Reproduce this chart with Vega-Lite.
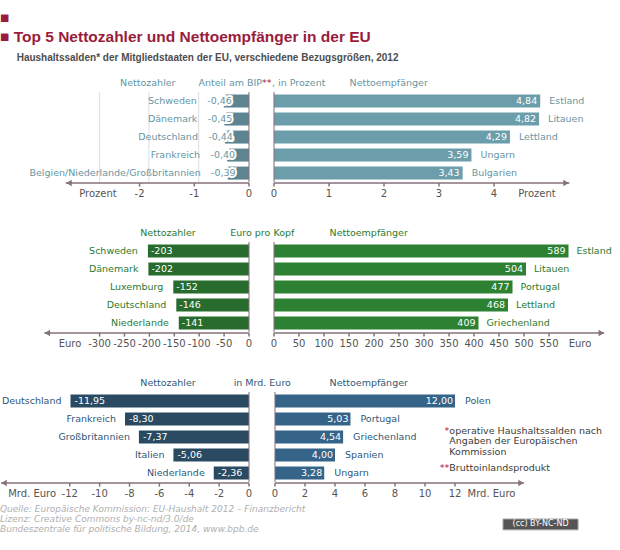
{
"$schema": "https://vega.github.io/schema/vega-lite/v6.json",
"padding": {"top": 11, "left": 0, "right": 0, "bottom": 0},
"background": "white",
"bounds": "flush",
"columns": 2,
"spacing": {"row": 49, "column": 25},
"title": {
 "text": ["■", "■  Top 5 Nettozahler und Nettoempfänger in der EU"],
 "subtitle": "\u200b\u00a0\u00a0\u00a0\u00a0\u00a0\u00a0Haushaltssalden* der Mitgliedstaaten der EU, verschiedene Bezugsgrößen, 2012",
 "anchor": "start", "offset": 15,
 "font": "Liberation Sans", "fontSize": 15.5, "fontWeight": "bold", "color": "#9a1c3c", "lineHeight": 19,
 "subtitleFont": "Liberation Sans", "subtitleFontSize": 10, "subtitleFontWeight": "bold", "subtitleColor": "#4d4d4d", "subtitlePadding": 7
},
"config": {
 "view": {"stroke": null},
 "locale": {"number": {"decimal": ",", "thousands": ".", "grouping": [3], "currency": ["", " €"], "minus": "-"}},
 "text": {"font": "DejaVu Sans", "fontSize": 9.5}
},
"data": {"values": [
 {"panel": 1, "side": "L", "rank": 1, "country": "Schweden", "value": -0.46},
 {"panel": 1, "side": "L", "rank": 2, "country": "Dänemark", "value": -0.45},
 {"panel": 1, "side": "L", "rank": 3, "country": "Deutschland", "value": -0.44},
 {"panel": 1, "side": "L", "rank": 4, "country": "Frankreich", "value": -0.40},
 {"panel": 1, "side": "L", "rank": 5, "country": "Belgien/Niederlande/Großbritannien", "value": -0.39},
 {"panel": 1, "side": "R", "rank": 1, "country": "Estland", "value": 4.84},
 {"panel": 1, "side": "R", "rank": 2, "country": "Litauen", "value": 4.82},
 {"panel": 1, "side": "R", "rank": 3, "country": "Lettland", "value": 4.29},
 {"panel": 1, "side": "R", "rank": 4, "country": "Ungarn", "value": 3.59},
 {"panel": 1, "side": "R", "rank": 5, "country": "Bulgarien", "value": 3.43},
 {"panel": 2, "side": "L", "rank": 1, "country": "Schweden", "value": -203},
 {"panel": 2, "side": "L", "rank": 2, "country": "Dänemark", "value": -202},
 {"panel": 2, "side": "L", "rank": 3, "country": "Luxemburg", "value": -152},
 {"panel": 2, "side": "L", "rank": 4, "country": "Deutschland", "value": -146},
 {"panel": 2, "side": "L", "rank": 5, "country": "Niederlande", "value": -141},
 {"panel": 2, "side": "R", "rank": 1, "country": "Estland", "value": 589},
 {"panel": 2, "side": "R", "rank": 2, "country": "Litauen", "value": 504},
 {"panel": 2, "side": "R", "rank": 3, "country": "Portugal", "value": 477},
 {"panel": 2, "side": "R", "rank": 4, "country": "Lettland", "value": 468},
 {"panel": 2, "side": "R", "rank": 5, "country": "Griechenland", "value": 409},
 {"panel": 3, "side": "L", "rank": 1, "country": "Deutschland", "value": -11.95},
 {"panel": 3, "side": "L", "rank": 2, "country": "Frankreich", "value": -8.30},
 {"panel": 3, "side": "L", "rank": 3, "country": "Großbritannien", "value": -7.37},
 {"panel": 3, "side": "L", "rank": 4, "country": "Italien", "value": -5.06},
 {"panel": 3, "side": "L", "rank": 5, "country": "Niederlande", "value": -2.36},
 {"panel": 3, "side": "R", "rank": 1, "country": "Polen", "value": 12.00},
 {"panel": 3, "side": "R", "rank": 2, "country": "Portugal", "value": 5.03},
 {"panel": 3, "side": "R", "rank": 3, "country": "Griechenland", "value": 4.54},
 {"panel": 3, "side": "R", "rank": 4, "country": "Spanien", "value": 4.00},
 {"panel": 3, "side": "R", "rank": 5, "country": "Ungarn", "value": 3.28}
]},
"concat": [
  {"width": 249, "height": 101,
   "transform": [{"filter": "datum.panel === 1 && datum.side === 'L'"}],
   "layer": [
    {"data": {"values": [{"g": -2.73}, {"g": -1.83}, {"g": -0.92}]}, "mark": {"type": "rule", "color": "#dddddd", "strokeWidth": 1},
     "encoding": {"x": {"field": "g", "type": "quantitative", "axis": null}, "y": {"datum": 0.5, "axis": null}, "y2": {"datum": 5.55}}},
    {"mark": {"type": "bar", "height": 13, "color": "#5d8591"},
     "encoding": {"x": {"field": "value", "type": "quantitative", "scale": {"domain": [-4.552, 0], "nice": false, "zero": false},
                        "axis": {"values": [-2, -1, 0], "format": "d", "grid": false, "title": null, "domain": false, "labels": false, "ticks": false}},
                  "x2": {"datum": 0},
                  "y": {"field": "rank", "type": "quantitative", "scale": {"domain": [0.5, 5.55], "reverse": true, "nice": false, "zero": false}, "axis": null}}},
    {"mark": {"type": "tick", "orient": "vertical", "color": "#86707a", "size": 18, "thickness": 1.5},
     "encoding": {"x": {"datum": 0, "axis": null}, "y": {"field": "rank", "type": "quantitative", "axis": null}}},
    {"data": {"values": [{}]}, "mark": {"type": "rule", "color": "#86707a", "strokeWidth": 1.5},
     "encoding": {"x": {"datum": -3.35, "axis": null}, "x2": {"datum": 0}, "y": {"datum": 5.55, "axis": null}}},
    {"data": {"values": [{}]}, "mark": {"type": "point", "shape": "triangle-left", "filled": true, "size": 40, "color": "#86707a", "opacity": 1},
     "encoding": {"x": {"datum": -3.29, "axis": null}, "y": {"datum": 5.55, "axis": null}}},
    {"data": {"values": [{"t": -2}, {"t": -1}, {"t": 0}]}, "mark": {"type": "rule", "color": "#86707a", "strokeWidth": 1.5},
     "encoding": {"x": {"field": "t", "type": "quantitative", "axis": null}, "y": {"datum": 5.55, "axis": null}, "y2": {"datum": 5.75}}},
    {"data": {"values": [{"t": -2}, {"t": -1}, {"t": 0}]}, "mark": {"type": "text", "align": "center", "baseline": "middle", "color": "#555555", "fontSize": 10},
     "encoding": {"x": {"field": "t", "type": "quantitative", "axis": null}, "y": {"datum": 6.15, "axis": null}, "text": {"field": "t", "type": "quantitative", "format": "d"}}},
    {"mark": {"type": "text", "align": "right", "baseline": "middle", "dx": 8, "color": "white", "stroke": "white", "strokeWidth": 4},
     "encoding": {"x": {"field": "value", "type": "quantitative", "axis": null}, "y": {"field": "rank", "type": "quantitative", "axis": null}, "text": {"field": "value", "type": "quantitative", "format": ".2f"}}},
    {"mark": {"type": "text", "align": "right", "baseline": "middle", "dx": 8, "color": "#6796a3"},
     "encoding": {"x": {"field": "value", "type": "quantitative", "axis": null}, "y": {"field": "rank", "type": "quantitative", "axis": null}, "text": {"field": "value", "type": "quantitative", "format": ".2f"}}},
    {"mark": {"type": "text", "align": "right", "baseline": "middle", "dx": -27, "color": "#6796a3"},
     "encoding": {"x": {"field": "value", "type": "quantitative", "axis": null}, "y": {"field": "rank", "type": "quantitative", "axis": null}, "text": {"field": "country"}}},
    {"data": {"values": [{}]}, "mark": {"type": "text", "align": "center", "baseline": "middle", "color": "#6796a3", "text": "Nettozahler"},
     "encoding": {"x": {"datum": -1.85, "axis": null}, "y": {"datum": 0, "axis": null}}},
    {"data": {"values": [{}]}, "mark": {"type": "text", "align": "right", "baseline": "middle", "color": "#6796a3", "text": "Anteil am BIP"},
     "encoding": {"x": {"datum": 0.238, "axis": null}, "y": {"datum": 0, "axis": null}}},
    {"data": {"values": [{}]}, "mark": {"type": "text", "align": "left", "baseline": "middle", "color": "#a0153e", "text": "**"},
     "encoding": {"x": {"datum": 0.238, "axis": null}, "y": {"datum": 0, "axis": null}}},
    {"data": {"values": [{}]}, "mark": {"type": "text", "align": "left", "baseline": "middle", "dx": 10, "color": "#6796a3", "text": ", in Prozent"},
     "encoding": {"x": {"datum": 0.238, "axis": null}, "y": {"datum": 0, "axis": null}}},
    {"data": {"values": [{}]}, "mark": {"type": "text", "align": "center", "baseline": "middle", "color": "#555555", "fontSize": 10, "text": "Prozent"},
     "encoding": {"x": {"datum": -2.76, "axis": null}, "y": {"datum": 6.15, "axis": null}}}
   ]},
  {"width": 330, "height": 101,
   "transform": [{"filter": "datum.panel === 1 && datum.side === 'R'"}],
   "layer": [
    {"mark": {"type": "bar", "height": 13, "color": "#6c9dab"},
     "encoding": {"x": {"field": "value", "type": "quantitative", "scale": {"domain": [0, 6], "nice": false, "zero": false},
                        "axis": {"values": [0, 1, 2, 3, 4], "format": "d", "grid": true, "gridColor": {"condition": {"test": "datum.value === 0", "value": "transparent"}, "value": "#dddddd"}, "title": null, "domain": false, "labels": false, "ticks": false}},
                  "x2": {"datum": 0},
                  "y": {"field": "rank", "type": "quantitative", "scale": {"domain": [0.5, 5.55], "reverse": true, "nice": false, "zero": false}, "axis": null}}},
    {"mark": {"type": "tick", "orient": "vertical", "color": "#86707a", "size": 18, "thickness": 1.5},
     "encoding": {"x": {"datum": 0, "axis": null}, "y": {"field": "rank", "type": "quantitative", "axis": null}}},
    {"data": {"values": [{}]}, "mark": {"type": "rule", "color": "#86707a", "strokeWidth": 1.5},
     "encoding": {"x": {"datum": 0, "axis": null}, "x2": {"datum": 5.37}, "y": {"datum": 5.55, "axis": null}}},
    {"data": {"values": [{}]}, "mark": {"type": "point", "shape": "triangle-right", "filled": true, "size": 40, "color": "#86707a", "opacity": 1},
     "encoding": {"x": {"datum": 5.31, "axis": null}, "y": {"datum": 5.55, "axis": null}}},
    {"data": {"values": [{"t": 0}, {"t": 1}, {"t": 2}, {"t": 3}, {"t": 4}]}, "mark": {"type": "rule", "color": "#86707a", "strokeWidth": 1.5},
     "encoding": {"x": {"field": "t", "type": "quantitative", "axis": null}, "y": {"datum": 5.55, "axis": null}, "y2": {"datum": 5.75}}},
    {"data": {"values": [{"t": 0}, {"t": 1}, {"t": 2}, {"t": 3}, {"t": 4}]}, "mark": {"type": "text", "align": "center", "baseline": "middle", "color": "#555555", "fontSize": 10},
     "encoding": {"x": {"field": "t", "type": "quantitative", "axis": null}, "y": {"datum": 6.15, "axis": null}, "text": {"field": "t", "type": "quantitative", "format": "d"}}},
    {"mark": {"type": "text", "align": "right", "baseline": "middle", "dx": -3, "color": "white"},
     "encoding": {"x": {"field": "value", "type": "quantitative", "axis": null}, "y": {"field": "rank", "type": "quantitative", "axis": null}, "text": {"field": "value", "type": "quantitative", "format": ".2f"}}},
    {"mark": {"type": "text", "align": "left", "baseline": "middle", "dx": 9, "color": "#6796a3"},
     "encoding": {"x": {"field": "value", "type": "quantitative", "axis": null}, "y": {"field": "rank", "type": "quantitative", "axis": null}, "text": {"field": "country"}}},
    {"data": {"values": [{}]}, "mark": {"type": "text", "align": "center", "baseline": "middle", "color": "#6796a3", "text": "Nettoempfänger"},
     "encoding": {"x": {"datum": 2.085, "axis": null}, "y": {"datum": 0, "axis": null}}},
    {"data": {"values": [{}]}, "mark": {"type": "text", "align": "center", "baseline": "middle", "color": "#555555", "fontSize": 10, "text": "Prozent"},
     "encoding": {"x": {"datum": 4.78, "axis": null}, "y": {"datum": 6.15, "axis": null}}}
   ]},
  {"width": 249, "height": 101,
   "transform": [{"filter": "datum.panel === 2 && datum.side === 'L'"}],
   "layer": [
    {"mark": {"type": "bar", "height": 13, "color": "#276c2d"},
     "encoding": {"x": {"field": "value", "type": "quantitative", "scale": {"domain": [-500, 0], "nice": false, "zero": false},
                        "axis": {"values": [-300, -250, -200, -150, -100, -50, 0], "format": "d", "grid": true, "gridColor": {"condition": {"test": "datum.value === 0", "value": "transparent"}, "value": "#dddddd"}, "title": null, "domain": false, "labels": false, "ticks": false}},
                  "x2": {"datum": 0},
                  "y": {"field": "rank", "type": "quantitative", "scale": {"domain": [0.5, 5.55], "reverse": true, "nice": false, "zero": false}, "axis": null}}},
    {"mark": {"type": "tick", "orient": "vertical", "color": "#86707a", "size": 18, "thickness": 1.5},
     "encoding": {"x": {"datum": 0, "axis": null}, "y": {"field": "rank", "type": "quantitative", "axis": null}}},
    {"data": {"values": [{}]}, "mark": {"type": "rule", "color": "#86707a", "strokeWidth": 1.5},
     "encoding": {"x": {"datum": -411, "axis": null}, "x2": {"datum": 0}, "y": {"datum": 5.55, "axis": null}}},
    {"data": {"values": [{}]}, "mark": {"type": "point", "shape": "triangle-left", "filled": true, "size": 40, "color": "#86707a", "opacity": 1},
     "encoding": {"x": {"datum": -405, "axis": null}, "y": {"datum": 5.55, "axis": null}}},
    {"data": {"values": [{"t": -300}, {"t": -250}, {"t": -200}, {"t": -150}, {"t": -100}, {"t": -50}, {"t": 0}]}, "mark": {"type": "rule", "color": "#86707a", "strokeWidth": 1.5},
     "encoding": {"x": {"field": "t", "type": "quantitative", "axis": null}, "y": {"datum": 5.55, "axis": null}, "y2": {"datum": 5.75}}},
    {"data": {"values": [{"t": -300}, {"t": -250}, {"t": -200}, {"t": -150}, {"t": -100}, {"t": -50}, {"t": 0}]}, "mark": {"type": "text", "align": "center", "baseline": "middle", "color": "#555555", "fontSize": 10},
     "encoding": {"x": {"field": "t", "type": "quantitative", "axis": null}, "y": {"datum": 6.15, "axis": null}, "text": {"field": "t", "type": "quantitative", "format": "d"}}},
    {"mark": {"type": "text", "align": "left", "baseline": "middle", "dx": 3, "color": "white"},
     "encoding": {"x": {"field": "value", "type": "quantitative", "axis": null}, "y": {"field": "rank", "type": "quantitative", "axis": null}, "text": {"field": "value", "type": "quantitative", "format": "d"}}},
    {"mark": {"type": "text", "align": "right", "baseline": "middle", "dx": -10, "color": "#2b7a30"},
     "encoding": {"x": {"field": "value", "type": "quantitative", "axis": null}, "y": {"field": "rank", "type": "quantitative", "axis": null}, "text": {"field": "country"}}},
    {"data": {"values": [{}]}, "mark": {"type": "text", "align": "center", "baseline": "middle", "color": "#2b7a30", "text": "Nettozahler"},
     "encoding": {"x": {"datum": -162.7, "axis": null}, "y": {"datum": 0, "axis": null}}},
    {"data": {"values": [{}]}, "mark": {"type": "text", "align": "center", "baseline": "middle", "color": "#2b7a30", "text": "Euro pro Kopf"},
     "encoding": {"x": {"datum": 26.7, "axis": null}, "y": {"datum": 0, "axis": null}}},
    {"data": {"values": [{}]}, "mark": {"type": "text", "align": "center", "baseline": "middle", "color": "#555555", "fontSize": 10, "text": "Euro"},
     "encoding": {"x": {"datum": -359.4, "axis": null}, "y": {"datum": 6.15, "axis": null}}}
   ]},
  {"width": 330, "height": 101,
   "transform": [{"filter": "datum.panel === 2 && datum.side === 'R'"}],
   "layer": [
    {"mark": {"type": "bar", "height": 13, "color": "#2d8132"},
     "encoding": {"x": {"field": "value", "type": "quantitative", "scale": {"domain": [0, 660], "nice": false, "zero": false},
                        "axis": {"values": [0, 50, 100, 150, 200, 250, 300, 350, 400, 450, 500, 550], "format": "d", "grid": true, "gridColor": {"condition": {"test": "datum.value === 0", "value": "transparent"}, "value": "#dddddd"}, "title": null, "domain": false, "labels": false, "ticks": false}},
                  "x2": {"datum": 0},
                  "y": {"field": "rank", "type": "quantitative", "scale": {"domain": [0.5, 5.55], "reverse": true, "nice": false, "zero": false}, "axis": null}}},
    {"mark": {"type": "tick", "orient": "vertical", "color": "#86707a", "size": 18, "thickness": 1.5},
     "encoding": {"x": {"datum": 0, "axis": null}, "y": {"field": "rank", "type": "quantitative", "axis": null}}},
    {"data": {"values": [{}]}, "mark": {"type": "rule", "color": "#86707a", "strokeWidth": 1.5},
     "encoding": {"x": {"datum": 0, "axis": null}, "x2": {"datum": 660}, "y": {"datum": 5.55, "axis": null}}},
    {"data": {"values": [{}]}, "mark": {"type": "point", "shape": "triangle-right", "filled": true, "size": 40, "color": "#86707a", "opacity": 1},
     "encoding": {"x": {"datum": 654.6, "axis": null}, "y": {"datum": 5.55, "axis": null}}},
    {"data": {"values": [{"t": 0}, {"t": 50}, {"t": 100}, {"t": 150}, {"t": 200}, {"t": 250}, {"t": 300}, {"t": 350}, {"t": 400}, {"t": 450}, {"t": 500}, {"t": 550}]}, "mark": {"type": "rule", "color": "#86707a", "strokeWidth": 1.5},
     "encoding": {"x": {"field": "t", "type": "quantitative", "axis": null}, "y": {"datum": 5.55, "axis": null}, "y2": {"datum": 5.75}}},
    {"data": {"values": [{"t": 0}, {"t": 50}, {"t": 100}, {"t": 150}, {"t": 200}, {"t": 250}, {"t": 300}, {"t": 350}, {"t": 400}, {"t": 450}, {"t": 500}, {"t": 550}]}, "mark": {"type": "text", "align": "center", "baseline": "middle", "color": "#555555", "fontSize": 10},
     "encoding": {"x": {"field": "t", "type": "quantitative", "axis": null}, "y": {"datum": 6.15, "axis": null}, "text": {"field": "t", "type": "quantitative", "format": "d"}}},
    {"mark": {"type": "text", "align": "right", "baseline": "middle", "dx": -3, "color": "white"},
     "encoding": {"x": {"field": "value", "type": "quantitative", "axis": null}, "y": {"field": "rank", "type": "quantitative", "axis": null}, "text": {"field": "value", "type": "quantitative", "format": "d"}}},
    {"mark": {"type": "text", "align": "left", "baseline": "middle", "dx": 8, "color": "#2b7a30"},
     "encoding": {"x": {"field": "value", "type": "quantitative", "axis": null}, "y": {"field": "rank", "type": "quantitative", "axis": null}, "text": {"field": "country"}}},
    {"data": {"values": [{}]}, "mark": {"type": "text", "align": "center", "baseline": "middle", "color": "#2b7a30", "text": "Nettoempfänger"},
     "encoding": {"x": {"datum": 189.4, "axis": null}, "y": {"datum": 0, "axis": null}}},
    {"data": {"values": [{}]}, "mark": {"type": "text", "align": "center", "baseline": "middle", "color": "#555555", "fontSize": 10, "text": "Euro"},
     "encoding": {"x": {"datum": 612, "axis": null}, "y": {"datum": 6.15, "axis": null}}}
   ]},
  {"width": 249, "height": 101,
   "transform": [{"filter": "datum.panel === 3 && datum.side === 'L'"}],
   "layer": [
    {"mark": {"type": "bar", "height": 13, "color": "#2a4a62"},
     "encoding": {"x": {"field": "value", "type": "quantitative", "scale": {"domain": [-16.67, 0], "nice": false, "zero": false},
                        "axis": {"values": [-12, -10, -8, -6, -4, -2, 0], "format": "d", "grid": true, "gridColor": {"condition": {"test": "datum.value === 0", "value": "transparent"}, "value": "#dddddd"}, "title": null, "domain": false, "labels": false, "ticks": false}},
                  "x2": {"datum": 0},
                  "y": {"field": "rank", "type": "quantitative", "scale": {"domain": [0.5, 5.55], "reverse": true, "nice": false, "zero": false}, "axis": null}}},
    {"mark": {"type": "tick", "orient": "vertical", "color": "#86707a", "size": 18, "thickness": 1.5},
     "encoding": {"x": {"datum": 0, "axis": null}, "y": {"field": "rank", "type": "quantitative", "axis": null}}},
    {"data": {"values": [{}]}, "mark": {"type": "rule", "color": "#86707a", "strokeWidth": 1.5},
     "encoding": {"x": {"datum": -16.6, "axis": null}, "x2": {"datum": 0}, "y": {"datum": 5.55, "axis": null}}},
    {"data": {"values": [{}]}, "mark": {"type": "point", "shape": "triangle-left", "filled": true, "size": 40, "color": "#86707a", "opacity": 1},
     "encoding": {"x": {"datum": -16.4, "axis": null}, "y": {"datum": 5.55, "axis": null}}},
    {"data": {"values": [{"t": -12}, {"t": -10}, {"t": -8}, {"t": -6}, {"t": -4}, {"t": -2}, {"t": 0}]}, "mark": {"type": "rule", "color": "#86707a", "strokeWidth": 1.5},
     "encoding": {"x": {"field": "t", "type": "quantitative", "axis": null}, "y": {"datum": 5.55, "axis": null}, "y2": {"datum": 5.75}}},
    {"data": {"values": [{"t": -12}, {"t": -10}, {"t": -8}, {"t": -6}, {"t": -4}, {"t": -2}, {"t": 0}]}, "mark": {"type": "text", "align": "center", "baseline": "middle", "color": "#555555", "fontSize": 10},
     "encoding": {"x": {"field": "t", "type": "quantitative", "axis": null}, "y": {"datum": 6.15, "axis": null}, "text": {"field": "t", "type": "quantitative", "format": "d"}}},
    {"mark": {"type": "text", "align": "left", "baseline": "middle", "dx": 4, "color": "white"},
     "encoding": {"x": {"field": "value", "type": "quantitative", "axis": null}, "y": {"field": "rank", "type": "quantitative", "axis": null}, "text": {"field": "value", "type": "quantitative", "format": ".2f"}}},
    {"mark": {"type": "text", "align": "right", "baseline": "middle", "dx": -9, "color": "#2f5878"},
     "encoding": {"x": {"field": "value", "type": "quantitative", "axis": null}, "y": {"field": "rank", "type": "quantitative", "axis": null}, "text": {"field": "country"}}},
    {"data": {"values": [{}]}, "mark": {"type": "text", "align": "center", "baseline": "middle", "color": "#2f5878", "text": "Nettozahler"},
     "encoding": {"x": {"datum": -5.42, "axis": null}, "y": {"datum": 0, "axis": null}}},
    {"data": {"values": [{}]}, "mark": {"type": "text", "align": "center", "baseline": "middle", "color": "#2f5878", "text": "in Mrd. Euro"},
     "encoding": {"x": {"datum": 0.89, "axis": null}, "y": {"datum": 0, "axis": null}}},
    {"data": {"values": [{}]}, "mark": {"type": "text", "align": "center", "baseline": "middle", "color": "#555555", "fontSize": 10, "text": "Mrd. Euro"},
     "encoding": {"x": {"datum": -14.52, "axis": null}, "y": {"datum": 6.15, "axis": null}}},
    {"data": {"values": [{}]}, "mark": {"type": "text", "align": "left", "baseline": "top", "color": "#b0b0b0", "fontSize": 9, "fontStyle": "italic", "lineHeight": 10,
       "text": ["Quelle: Europäische Kommission: EU-Haushalt 2012 – Finanzbericht", "Lizenz: Creative Commons by-nc-nd/3.0/de", "Bundeszentrale für politische Bildung, 2014, www.bpb.de"]},
     "encoding": {"x": {"datum": -16.67, "axis": null}, "y": {"datum": 6.775, "axis": null}}}
   ]},
  {"width": 330, "height": 101,
   "transform": [{"filter": "datum.panel === 3 && datum.side === 'R'"}],
   "layer": [
    {"mark": {"type": "bar", "height": 13, "color": "#366489"},
     "encoding": {"x": {"field": "value", "type": "quantitative", "scale": {"domain": [-0.0667, 21.93], "nice": false, "zero": false},
                        "axis": {"values": [0, 2, 4, 6, 8, 10, 12], "format": "d", "grid": true, "gridColor": {"condition": {"test": "datum.value === 0", "value": "transparent"}, "value": "#dddddd"}, "title": null, "domain": false, "labels": false, "ticks": false}},
                  "x2": {"datum": 0},
                  "y": {"field": "rank", "type": "quantitative", "scale": {"domain": [0.5, 5.55], "reverse": true, "nice": false, "zero": false}, "axis": null}}},
    {"mark": {"type": "tick", "orient": "vertical", "color": "#86707a", "size": 18, "thickness": 1.5},
     "encoding": {"x": {"datum": 0, "axis": null}, "y": {"field": "rank", "type": "quantitative", "axis": null}}},
    {"data": {"values": [{}]}, "mark": {"type": "rule", "color": "#86707a", "strokeWidth": 1.5},
     "encoding": {"x": {"datum": 0, "axis": null}, "x2": {"datum": 16.6}, "y": {"datum": 5.55, "axis": null}}},
    {"data": {"values": [{}]}, "mark": {"type": "point", "shape": "triangle-right", "filled": true, "size": 40, "color": "#86707a", "opacity": 1},
     "encoding": {"x": {"datum": 16.4, "axis": null}, "y": {"datum": 5.55, "axis": null}}},
    {"data": {"values": [{"t": 0}, {"t": 2}, {"t": 4}, {"t": 6}, {"t": 8}, {"t": 10}, {"t": 12}]}, "mark": {"type": "rule", "color": "#86707a", "strokeWidth": 1.5},
     "encoding": {"x": {"field": "t", "type": "quantitative", "axis": null}, "y": {"datum": 5.55, "axis": null}, "y2": {"datum": 5.75}}},
    {"data": {"values": [{"t": 0}, {"t": 2}, {"t": 4}, {"t": 6}, {"t": 8}, {"t": 10}, {"t": 12}]}, "mark": {"type": "text", "align": "center", "baseline": "middle", "color": "#555555", "fontSize": 10},
     "encoding": {"x": {"field": "t", "type": "quantitative", "axis": null}, "y": {"datum": 6.15, "axis": null}, "text": {"field": "t", "type": "quantitative", "format": "d"}}},
    {"mark": {"type": "text", "align": "right", "baseline": "middle", "dx": -2, "color": "white"},
     "encoding": {"x": {"field": "value", "type": "quantitative", "axis": null}, "y": {"field": "rank", "type": "quantitative", "axis": null}, "text": {"field": "value", "type": "quantitative", "format": ".2f"}}},
    {"mark": {"type": "text", "align": "left", "baseline": "middle", "dx": 10, "color": "#2f5878"},
     "encoding": {"x": {"field": "value", "type": "quantitative", "axis": null}, "y": {"field": "rank", "type": "quantitative", "axis": null}, "text": {"field": "country"}}},
    {"data": {"values": [{}]}, "mark": {"type": "text", "align": "center", "baseline": "middle", "color": "#2f5878", "text": "Nettoempfänger"},
     "encoding": {"x": {"datum": 6.25, "axis": null}, "y": {"datum": 0, "axis": null}}},
    {"data": {"values": [{}]}, "mark": {"type": "text", "align": "center", "baseline": "middle", "color": "#555555", "fontSize": 10, "text": "Mrd. Euro"},
     "encoding": {"x": {"datum": 14.43, "axis": null}, "y": {"datum": 6.15, "axis": null}}},
    {"data": {"values": [{}]}, "mark": {"type": "text", "align": "right", "baseline": "top", "color": "#a0153e", "text": "*"},
     "encoding": {"x": {"datum": 11.62, "axis": null}, "y": {"datum": 2.375, "axis": null}}},
    {"data": {"values": [{}]}, "mark": {"type": "text", "align": "left", "baseline": "top", "color": "#3c3c3c", "lineHeight": 10.7,
       "text": ["operative Haushaltssalden nach", "Angaben der Europäischen", "Kommission"]},
     "encoding": {"x": {"datum": 11.62, "axis": null}, "y": {"datum": 2.375, "axis": null}}},
    {"data": {"values": [{}]}, "mark": {"type": "text", "align": "right", "baseline": "top", "color": "#a0153e", "text": "**"},
     "encoding": {"x": {"datum": 11.62, "axis": null}, "y": {"datum": 4.415, "axis": null}}},
    {"data": {"values": [{}]}, "mark": {"type": "text", "align": "left", "baseline": "top", "color": "#3c3c3c", "text": "Bruttoinlandsprodukt"},
     "encoding": {"x": {"datum": 11.62, "axis": null}, "y": {"datum": 4.415, "axis": null}}},
    {"data": {"values": [{}]}, "mark": {"type": "rect", "color": "#555555", "stroke": "#a0a0a0", "strokeWidth": 1},
     "encoding": {"x": {"datum": 15.2, "axis": null}, "x2": {"datum": 20.2}, "y": {"datum": 7.55, "axis": null}, "y2": {"datum": 8.15}}},
    {"data": {"values": [{}]}, "mark": {"type": "text", "align": "center", "baseline": "middle", "color": "white", "fontSize": 8, "text": "(cc)  BY-NC-ND"},
     "encoding": {"x": {"datum": 17.7, "axis": null}, "y": {"datum": 7.85, "axis": null}}}
   ]}
]
}
